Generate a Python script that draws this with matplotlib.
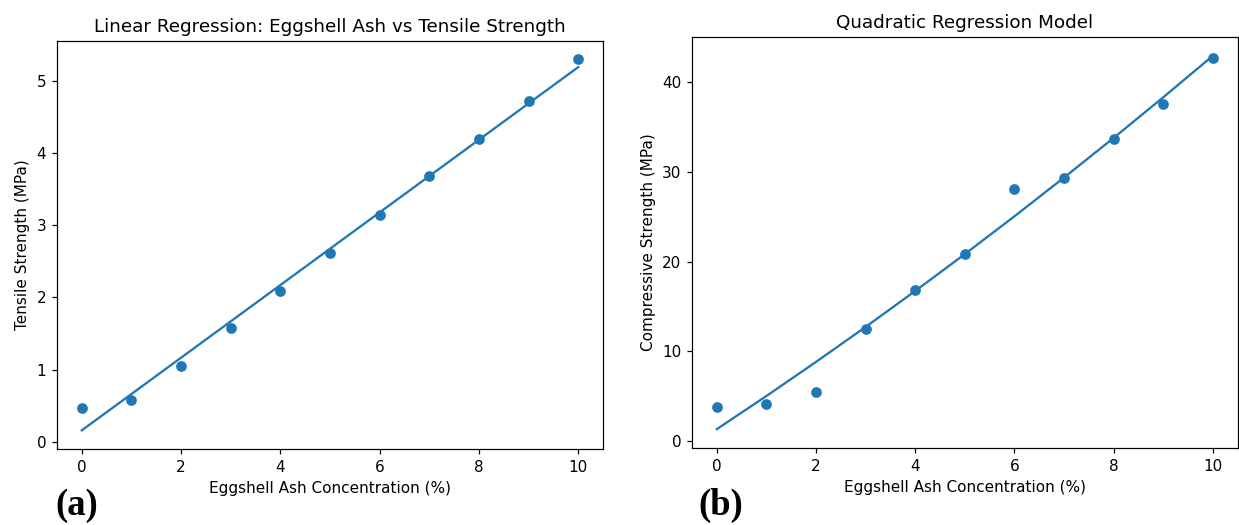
import numpy as np
import matplotlib.pyplot as plt

# Eggshell ash concentration (%)
ash = [0, 1, 2, 3, 4, 5, 6, 7, 8, 9, 10]

# Tensile strength (MPa), panel (a)
tensile = [0.47, 0.58, 1.05, 1.58, 2.09, 2.62, 3.14, 3.68, 4.20, 4.72, 5.30]

# Compressive strength (MPa), panel (b)
compressive = [3.8, 4.1, 5.5, 12.5, 16.8, 20.9, 28.1, 29.3, 33.7, 37.6, 42.7]

DPI = 110
fig = plt.figure(figsize=(1239 / DPI, 525 / DPI), dpi=DPI)

# (a) linear fit
ax1 = fig.add_axes([0.046, 0.145, 0.4407, 0.777])
lin = np.polyfit(ash, tensile, 1)
ax1.scatter(ash, tensile, color='tab:blue')
ax1.plot(ash, np.polyval(lin, ash), color='tab:blue')
ax1.set_title("Linear Regression: Eggshell Ash vs Tensile Strength", fontsize=12)
ax1.set_xlabel("Eggshell Ash Concentration (%)")
ax1.set_ylabel("Tensile Strength (MPa)")
ax1.set_xticks([0, 2, 4, 6, 8, 10])

# (b) quadratic fit
ax2 = fig.add_axes([0.5585, 0.147, 0.4405, 0.7825])
quad = np.polyfit(ash, compressive, 2)
ax2.scatter(ash, compressive, color='tab:blue')
ax2.plot(ash, np.polyval(quad, ash), color='tab:blue')
ax2.set_title("Quadratic Regression Model", fontsize=12)
ax2.set_xlabel("Eggshell Ash Concentration (%)")
ax2.set_ylabel("Compressive Strength (MPa)")
ax2.set_xticks([0, 2, 4, 6, 8, 10])

# panel letters
fig.text(0.062, 0.038, "(a)", fontsize=24, fontweight='bold',
         family='Liberation Serif', ha='center', va='center')
fig.text(0.582, 0.038, "(b)", fontsize=24, fontweight='bold',
         family='Liberation Serif', ha='center', va='center')

fig.savefig("out.png", dpi=DPI)
